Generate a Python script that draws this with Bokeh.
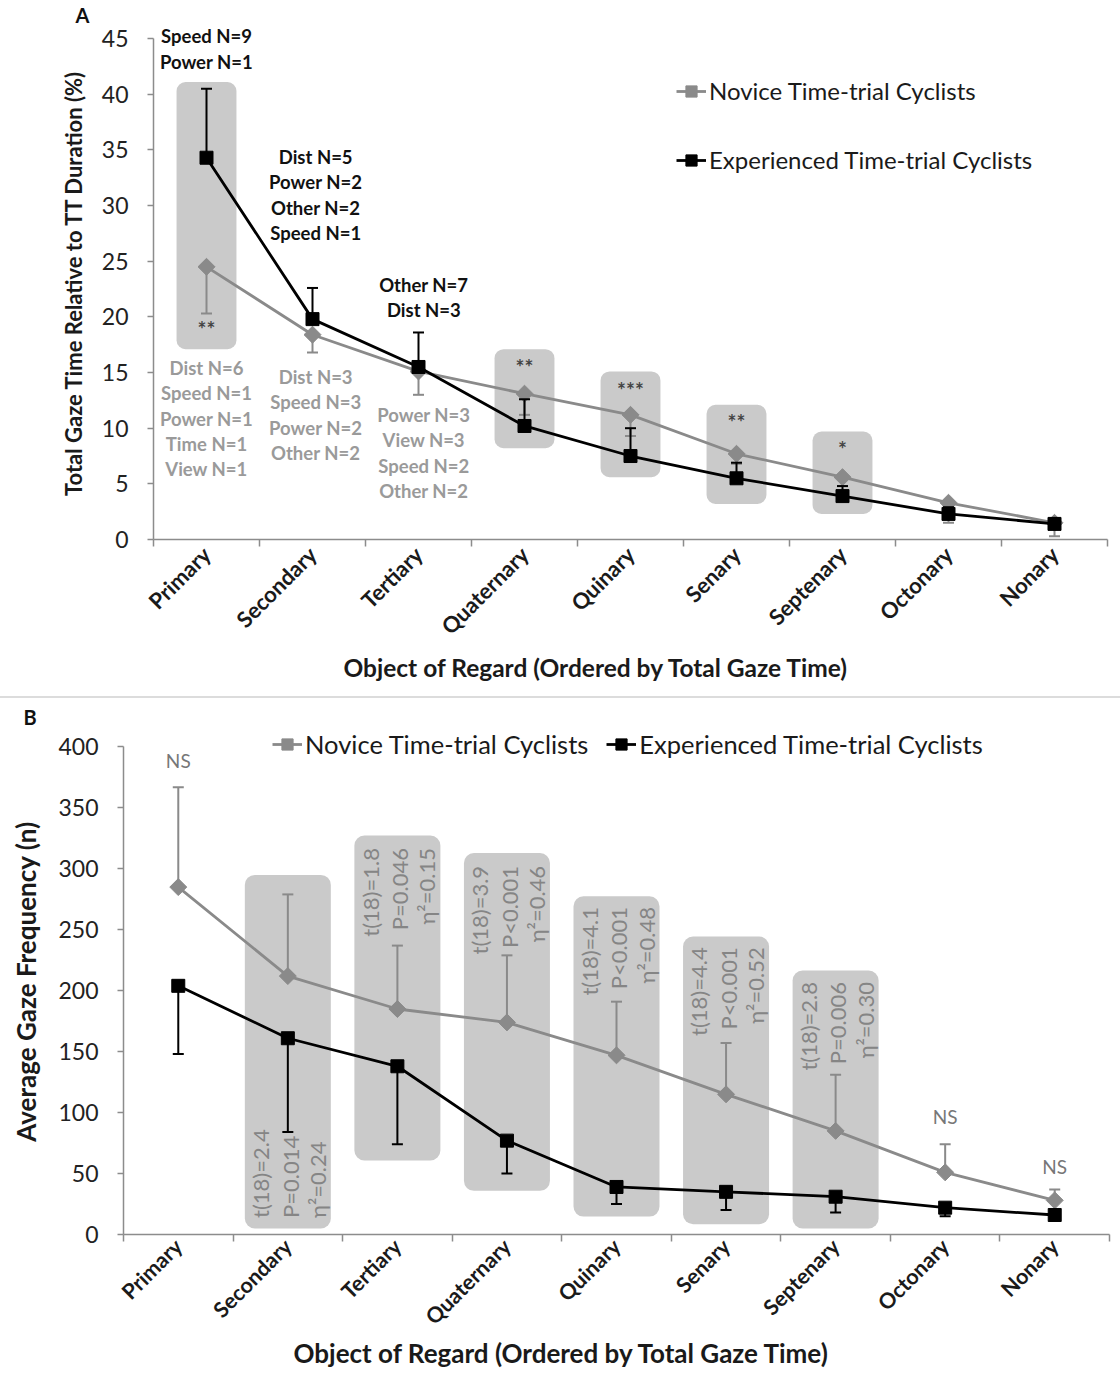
import math
from bokeh.plotting import figure
from bokeh.models import FixedTicker, CustomJSTickFormatter, Legend, LegendItem, Div, Title
from bokeh.core.properties import value
from bokeh.embed import file_html
from bokeh.resources import INLINE

FONT = "Lato"
GRAY = "#8a8a8a"
BLACK = "#000000"
BOX = "#cacaca"
AXIS = "#8c8c8c"
NOTE_GRAY = "#9a9a9a"

categories = ["Primary", "Secondary", "Tertiary", "Quaternary", "Quinary",
              "Senary", "Septenary", "Octonary", "Nonary"]

# ---------------- Panel A data (Total gaze time, % of TT duration) -----------
a_novice = [24.5, 18.4, 15.1, 13.1, 11.2, 7.7, 5.6, 3.3, 1.5]
a_novice_err = [4.2, 1.6, 2.1, 1.9, 1.9, 0.9, 0.8, 1.8, 1.2]      # drawn downward
a_exp = [34.3, 19.8, 15.5, 10.2, 7.5, 5.5, 3.9, 2.3, 1.4]
a_exp_err = [6.2, 2.8, 3.1, 2.4, 2.5, 1.4, 0.9, 0.6, 0.5]          # drawn upward

a_box_cats = [0, 3, 4, 5, 6]
a_box_low = [17.1, 8.2, 5.6, 3.2, 2.3]
a_box_high = [41.1, 17.1, 15.1, 12.1, 9.7]
a_stars = ["**", "**", "***", "**", "*"]
a_star_y = [19.0, 15.5, 13.5, 10.6, 8.2]

a_black_notes = [["Speed N=9", "Power N=1"],
                 ["Dist N=5", "Power N=2", "Other N=2", "Speed N=1"],
                 ["Other N=7", "Dist N=3"]]
a_gray_notes = [["Dist N=6", "Speed N=1", "Power N=1", "Time N=1", "View N=1"],
                ["Dist N=3", "Speed N=3", "Power N=2", "Other N=2"],
                ["Power N=3", "View N=3", "Speed N=2", "Other N=2"]]
a_black_top = [45.2, 34.4, 22.9]
a_gray_top = [15.45, 14.6, 11.2]
a_note_dx = [0.0, 0.03, 0.05]
A_LINE = 2.29

# ---------------- Panel B data (Average gaze frequency, n) -------------------
b_novice = [285, 212, 185, 174, 147, 115, 85, 51, 28]
b_novice_err = [82, 67, 52, 55, 44, 42, 46, 23, 9]                 # drawn upward
b_exp = [204, 161, 138, 77, 39, 35, 31, 22, 16]
b_exp_err = [56, 77, 64, 27, 14, 15, 13, 7, 4]                     # drawn downward

b_box_cats = [1, 2, 3, 4, 5, 6]
b_box_low = [5, 60.7, 35.8, 14.7, 8.5, 5]
b_box_high = [295, 327.3, 313, 277.4, 244.4, 216.6]
b_stats = [["t(18)=2.4", "P=0.014", "η²=0.24"],
           ["t(18)=1.8", "P=0.046", "η²=0.15"],
           ["t(18)=3.9", "P<0.001", "η²=0.46"],
           ["t(18)=4.1", "P<0.001", "η²=0.48"],
           ["t(18)=4.4", "P<0.001", "η²=0.52"],
           ["t(18)=2.8", "P=0.006", "η²=0.30"]]
b_stat_anchor = [13.6, 317, 302.4, 268.7, 235.6, 207.2]
b_stat_align = ["left", "right", "right", "right", "right", "right"]
b_stat_dx = [-0.25, 0.02, 0.27]
b_ns_cats = [0, 7, 8]
b_ns_y = [388.5, 97, 55.7]

xc = [i + 0.5 for i in range(len(categories))]


def base_fig(height, y_end, y_ticks, y_bound, left, right, top, bottom, label_standoff):
    p = figure(width=1120, height=height, x_range=(0, 9), y_range=(0, y_end),
               output_backend="svg", toolbar_location=None,
               min_border_left=left, min_border_right=right,
               min_border_top=top, min_border_bottom=bottom,
               styles={"vertical-align": "top"})
    p.grid.grid_line_color = None
    p.outline_line_color = None
    xa = p.xaxis[0]
    xa.ticker = FixedTicker(ticks=xc, minor_ticks=list(range(10)))
    xa.formatter = CustomJSTickFormatter(args=dict(cats=categories),
                                         code="return cats[Math.floor(tick)] || '';")
    xa.major_label_orientation = math.pi / 4
    xa.major_label_standoff = label_standoff
    xa.major_tick_line_color = None
    xa.major_tick_out = 7
    xa.minor_tick_line_color = AXIS
    xa.minor_tick_line_width = 1.5
    xa.minor_tick_out = 7
    xa.minor_tick_in = 0
    xa.axis_line_color = AXIS
    xa.axis_line_width = 1.5
    xa.major_label_text_font = FONT
    xa.major_label_text_font_style = "bold"
    xa.major_label_text_color = "#1a1a1a"
    ya = p.yaxis[0]
    ya.ticker = FixedTicker(ticks=y_ticks)
    ya.bounds = (0, y_bound)
    ya.axis_line_color = AXIS
    ya.axis_line_width = 1.5
    ya.major_tick_line_color = AXIS
    ya.major_tick_line_width = 1.5
    ya.major_tick_out = 6
    ya.major_tick_in = 0
    ya.minor_tick_line_color = None
    ya.major_label_text_font = FONT
    ya.major_label_text_color = "#222222"
    ya.major_label_standoff = 19
    ya.axis_label_text_font = FONT
    ya.axis_label_text_font_style = "bold"
    ya.axis_label_text_color = "#1a1a1a"
    return p


def panel_letter(p, letter, offset):
    p.title.text = letter
    p.title.align = "left"
    p.title.offset = offset
    p.title.standoff = 0
    p.title.text_font = FONT
    p.title.text_font_size = "20px"
    p.title.text_font_style = "bold"
    p.title.text_color = "#111111"


def x_title(p, text, size, offset, standoff):
    p.add_layout(Title(text=text, align="left", offset=offset, standoff=standoff,
                       text_font=FONT, text_font_size=size, text_font_style="bold",
                       text_color="#1a1a1a"), "below")


def draw_boxes(p, cats, low, high, width, radius):
    p.quad(left=[xc[c] - width / 2 for c in cats], right=[xc[c] + width / 2 for c in cats],
           bottom=low, top=high, fill_color=BOX, line_color=None, border_radius=radius)


def draw_series(p, vals, errs, direction, color, marker, size, angle):
    ln = p.line(xc, vals, line_color=color, line_width=2.8)
    ends = [v + direction * e for v, e in zip(vals, errs)]
    p.segment(x0=xc, y0=vals, x1=xc, y1=ends, line_color=color, line_width=2)
    p.scatter(xc, ends, marker="dash", size=11, line_color=color, line_width=2)
    mk = p.scatter(xc, vals, marker=marker, size=size, angle=angle,
                   fill_color=color, line_color=color)
    return [ln, mk]


def make_legend(renderers_nov, renderers_exp, loc, orient, spacing, size):
    return Legend(items=[LegendItem(label="Novice Time-trial Cyclists", renderers=renderers_nov),
                         LegendItem(label="Experienced Time-trial Cyclists", renderers=renderers_exp)],
                  location=loc, orientation=orient, spacing=spacing,
                  glyph_width=30, glyph_height=28, label_height=28, label_standoff=3,
                  padding=0, margin=0, border_line_color=None, background_fill_alpha=0,
                  label_text_font=FONT, label_text_font_size=size, label_text_color="#1a1a1a")


# ============================ Panel A =======================================
pa = base_fig(696, 46.09, list(range(0, 50, 5)), 45, 153, 13, 26, 157, 4)
panel_letter(pa, "A", -78)
pa.xaxis.major_label_text_font_size = "22px"
x_title(pa, "Object of Regard (Ordered by Total Gaze Time)", "24.5px", 190, -3)
pa.yaxis.axis_label = "Total Gaze Time Relative to TT Duration (%)"
pa.yaxis.axis_label_text_font_size = "22px"
pa.yaxis.axis_label_standoff = 12
pa.yaxis.major_label_text_font_size = "23px"

draw_boxes(pa, a_box_cats, a_box_low, a_box_high, 0.565, 9)
nov_a = draw_series(pa, a_novice, a_novice_err, -1, GRAY, "square", 12, math.pi / 4)
exp_a = draw_series(pa, a_exp, a_exp_err, 1, BLACK, "square", 13, 0)

pa.text([xc[c] for c in a_box_cats], a_star_y, text=a_stars, text_align="center",
        text_baseline="middle", text_font=value(FONT), text_font_size="21px",
        text_font_style="bold", text_color="#444444")

for i, lines in enumerate(a_black_notes):
    pa.text([xc[i] + a_note_dx[i]] * len(lines),
            [a_black_top[i] - k * A_LINE for k in range(len(lines))],
            text=lines, text_align="center", text_baseline="middle",
            text_font=value(FONT), text_font_size="18.5px", text_font_style="bold",
            text_color="#111111")
for i, lines in enumerate(a_gray_notes):
    pa.text([xc[i] + a_note_dx[i]] * len(lines),
            [a_gray_top[i] - k * A_LINE for k in range(len(lines))],
            text=lines, text_align="center", text_baseline="middle",
            text_font=value(FONT), text_font_size="18.5px", text_font_style="bold",
            text_color=NOTE_GRAY)

pa.add_layout(make_legend(nov_a, exp_a, (523, 365), "vertical", 40, "24px"))

sep = Div(text="", width=1120, height=2,
          styles={"display": "block", "margin": "0", "border-top": "2px solid #dcdcdc"})

# ============================ Panel B =======================================
pb = base_fig(677, 415.1, list(range(0, 450, 50)), 400, 123, 11, 30, 141, 1)
panel_letter(pb, "B", -100)
pb.xaxis.major_label_text_font_size = "21.5px"
x_title(pb, "Object of Regard (Ordered by Total Gaze Time)", "26px", 170, -14)
pb.yaxis.axis_label = "Average Gaze Frequency (n)"
pb.yaxis.axis_label_text_font_size = "26px"
pb.yaxis.axis_label_standoff = 13
pb.yaxis.major_label_text_font_size = "23px"

draw_boxes(pb, b_box_cats, b_box_low, b_box_high, 0.785, 10)
nov_b = draw_series(pb, b_novice, b_novice_err, 1, GRAY, "square", 12, math.pi / 4)
exp_b = draw_series(pb, b_exp, b_exp_err, -1, BLACK, "square", 13, 0)

for j, c in enumerate(b_box_cats):
    pb.text([xc[c] + d for d in b_stat_dx], [b_stat_anchor[j]] * 3, text=b_stats[j],
            angle=math.pi / 2, text_align=b_stat_align[j], text_baseline="middle",
            text_font=value(FONT), text_font_size="22px", text_color="#858585")

pb.text([xc[c] for c in b_ns_cats], b_ns_y, text=["NS"] * len(b_ns_cats),
        text_align="center", text_baseline="middle", text_font=value(FONT),
        text_font_size="19px", text_color="#777777")

pb.add_layout(make_legend(nov_b, exp_b, (149, 475), "horizontal", 18, "25.5px"))

open("out.html", "w").write(file_html([pa, sep, pb], INLINE))
